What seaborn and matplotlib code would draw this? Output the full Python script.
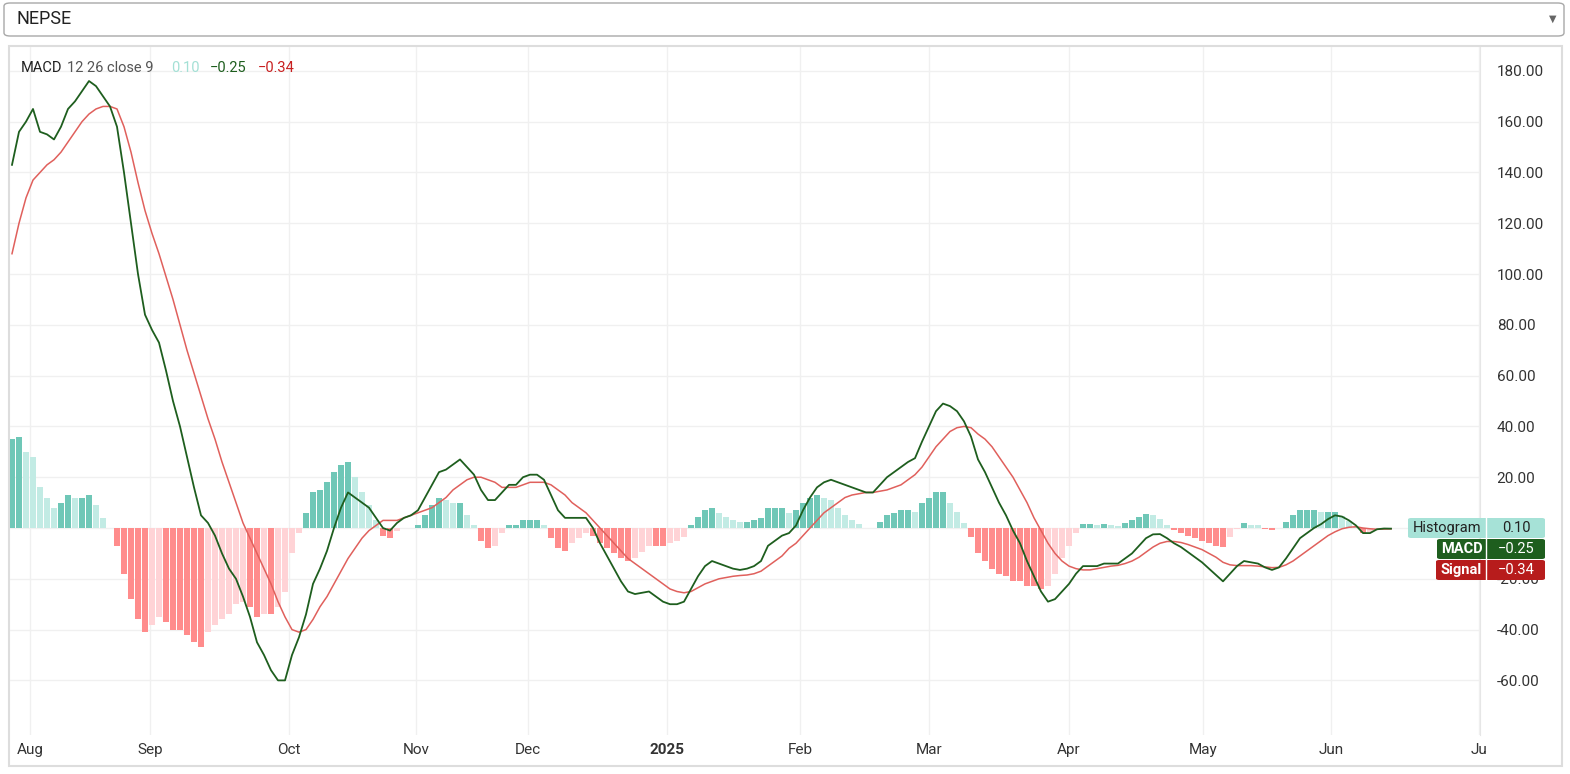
import numpy as np
import pandas as pd
import matplotlib
matplotlib.use("Agg")
import matplotlib.pyplot as plt
from matplotlib.patches import FancyBboxPatch
import seaborn as sns

macd = [143,156,160,165,156,155,153,158,165,168,172,176,174,170,166,158,140,120,100,84,
        78,73,62,50,40,28,16,5,2,-3,-10,-16,-20,-27,-35,-45,-50,-56,-60,-60,
        -50,-43,-34,-22,-16,-9,0,8,14,12,10,8,4,0,-1,2,4,5,7,12,
        17,22,23,25,27,24,21,15,11,11,14,17,17,20,21,21,19,13,7,4,
        4,4,4,0,-6,-11,-16,-21,-25,-26,-25.5,-25,-27,-29,-30,-30,-29,-24,-19,-15,
        -13,-14,-15,-16,-16.5,-16,-15,-13,-7,-5,-3,-2,1,7,12,16,18,19,18,17,
        16,15,14,14,17,20,22,24,26,27.5,34,40,46,49,48,46,42,36,27,22,
        16,10,5,-1,-6,-13,-19,-25,-29,-28,-25,-22,-18,-15,-15,-15,-14,-14,-14,-12,
        -10,-7,-4,-2.5,-2.4,-4,-6,-7.5,-9.5,-11.5,-13.5,-16,-18.5,-21,-18,-15,-13,-13.5,-14,-15.5,
        -16.5,-15.5,-12,-8,-4,-2,0,1.5,3.5,5,4.5,3,1,-2,-2,-0.5,-0.2,-0.25]
signal = [108,120,130,137,140,143,145,148,152,156,160,163,165,166,166,165,158,148,136,125,
          116,108,99,90,80,70,61,52,43,35,26,18,10,2,-4,-10,-16,-22,-29,-35,
          -40,-41,-40,-36,-31,-27,-22,-17,-12,-8,-4,-1,1,3,3,3,4,5,6,7,
          8,10,12,15,17,19,20,20,19,18,16,16,16,17,18,18,18,17,15,13,
          10,8,6,3,0,-3,-6,-9,-12,-14,-16,-18,-20,-22,-24,-25,-25.5,-25,-23.5,-22,
          -21,-20,-19.5,-19,-18.7,-18.5,-18,-17,-15,-13,-11,-8,-6,-3,0,3,6,8,10,12,
          13,13.5,14,14,14.5,15,16,17,19,21,24,28,32,35,38,39.5,40,39.5,37,35,
          32,28,24,20,15,10,4,-1,-6,-10,-13,-15,-16,-16.5,-16.5,-16,-15.5,-15,-14.7,-14,
          -13,-11.5,-9.5,-7.5,-6,-5.3,-5.3,-5.7,-6.5,-7.5,-8.5,-10,-11.5,-13.5,-14.5,-14.8,-14.8,-14.8,-15,-15.3,
          -15.6,-15.5,-14.5,-13,-11,-9,-7,-5,-3,-1.5,-0.3,0.3,0.5,0,-0.3,-0.5,-0.4,-0.34]
month_labels = ["Aug","Sep","Oct","Nov","Dec","2025","Feb","Mar","Apr","May","Jun","Ju"]
month_pos = [2.57,19.7,39.6,57.7,73.7,93.6,112.6,131,151,170.1,188.4,209.6]
y_ticks = [-60,-40,-20,0,20,40,60,80,100,120,140,160,180]
last_vals = {"Histogram": "0.10", "MACD": "\u22120.25", "Signal": "\u22120.34"}

n = len(macd)
idx = np.arange(n)
hist = np.array(macd) - np.array(signal)
cats = []
for i, h in enumerate(hist):
    prev = hist[i-1] if i > 0 else h
    if h >= 0:
        cats.append("pos_up" if h >= prev else "pos_down")
    else:
        cats.append("neg_down" if h <= prev else "neg_up")
pal = {"pos_up": "#6fc7b7", "pos_down": "#c2ebe4", "neg_down": "#ff8c8c", "neg_up": "#ffd3d6"}
df = pd.DataFrame({"i": idx, "macd": macd, "signal": signal, "hist": hist, "cat": cats})

W, H = 1570, 774
plt.rcParams["font.family"] = ["Roboto", "DejaVu Sans"]
fig = plt.figure(figsize=(W/100, H/100), dpi=100)
fig.patch.set_facecolor("white")

# dropdown
fig.patches.append(FancyBboxPatch((4/W, (774-36)/H), 1560/W, 33/H, boxstyle="round,pad=0,rounding_size=0.004",
                                  transform=fig.transFigure, fc="white", ec="#a8a8a8", lw=1))
fig.text(16/W, 1-19/H, "NEPSE", fontsize=13, color="#222", va="center")
fig.text(1553/W, 1-19/H, "\u25BC", fontsize=7, color="#666", va="center", ha="center")
# panel shadow
panel = FancyBboxPatch((9/W, 1-766/H), 1553/W, 720/H, boxstyle="square,pad=0",
                       transform=fig.transFigure, fc="white", ec="#dddddd", lw=1.5, zorder=-10)
fig.patches.append(panel)

ax = fig.add_axes([10/W, (774-735)/H, 1470/W, 688/H])
ax.patch.set_alpha(0)
sns.barplot(data=df, x="i", y="hist", hue="cat", palette=pal, native_scale=True, dodge=False,
            width=0.8, legend=False, ax=ax, linewidth=0, saturation=1)
sns.lineplot(data=df, x="i", y="signal", color="#e0605c", lw=1.1, ax=ax, legend=False)
sns.lineplot(data=df, x="i", y="macd", color="#1e5e1e", lw=1.3, ax=ax, legend=False)
ax.axhline(0, color="#c8c8c8", lw=0.6, ls=(0, (1, 2)), zorder=0)

ax.set_xlim(-2/7, 1468/7)
ax.set_ylim(-81.5, 189.4)
ax.set_xticks(month_pos)
ax.set_xticklabels(month_labels)
for lab in ax.get_xticklabels():
    if lab.get_text() == "2025":
        lab.set_fontweight("bold")
ax.set_yticks(y_ticks)
ax.set_yticklabels([f"{v:.2f}" for v in y_ticks])
ax.yaxis.tick_right()
ax.tick_params(axis="both", length=0, labelsize=11, colors="#333333")
ax.tick_params(axis="y", pad=12)
ax.tick_params(axis="x", pad=6)
ax.grid(True, color="#f0f0f0", lw=1)
ax.set_axisbelow(True)
for s in ["top", "left", "bottom"]:
    ax.spines[s].set_visible(False)
ax.spines["right"].set_color("#e6e6e6")
ax.set_xlabel("")
ax.set_ylabel("")

# legend text
y0 = 1 - 68/H
fig.text(21/W, y0, "MACD", fontsize=10.5, color="#222", va="center")
fig.text(67/W, y0, "12 26 close 9", fontsize=10.5, color="#555", va="center")
fig.text(171/W, y0, "0.10", fontsize=10.5, color="#a3e0d5", va="center")
fig.text(210/W, y0, "\u22120.25", fontsize=10.5, color="#1e5e1e", va="center")
fig.text(258/W, y0, "\u22120.34", fontsize=10.5, color="#c82020", va="center")

# right tags
tags = [("Histogram", 528, "#a6e2d7", "#222"), ("MACD", 549, "#1e5e1e", "white"), ("Signal", 570, "#b71c1c", "white")]
for name, yp, bg, fg in tags:
    left = 1408 if name == "Histogram" else (1437 if name == "MACD" else 1436)
    fig.patches.append(FancyBboxPatch((left/W, 1-(yp+10)/H), (1545-left)/W, 20/H,
                                      boxstyle="round,pad=0,rounding_size=0.002", transform=fig.transFigure,
                                      fc=bg, ec="none", zorder=5))
    fig.text((left + 1486) / 2 / W, 1-yp/H, name, fontsize=10.5, color=fg, va="center", ha="center",
             fontweight="normal" if name == "Histogram" else "bold", zorder=6)
    fig.text(1516/W, 1-yp/H, last_vals[name], fontsize=10.5, color=fg, va="center", ha="center", zorder=6)
    fig.lines.append(plt.Line2D([1486/W, 1486/W], [1-(yp+10)/H, 1-(yp-10)/H], color="white", lw=1,
                                transform=fig.transFigure, zorder=6))

fig.savefig("out.png", dpi=100)
